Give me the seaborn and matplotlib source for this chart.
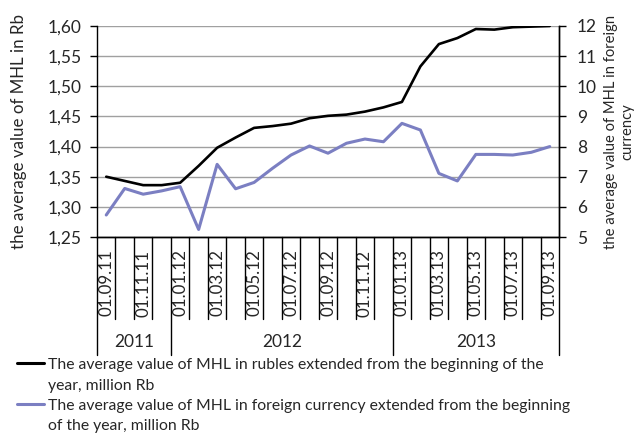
import matplotlib.pyplot as plt
import matplotlib.transforms as mtransforms
from matplotlib.legend_handler import HandlerLine2D
import numpy as np
import pandas as pd
import seaborn as sns

# monthly points, Sep 2011 .. Sep 2013
dates = ["01.09.11", "01.10.11", "01.11.11", "01.12.11",
         "01.01.12", "01.02.12", "01.03.12", "01.04.12", "01.05.12", "01.06.12",
         "01.07.12", "01.08.12", "01.09.12", "01.10.12", "01.11.12", "01.12.12",
         "01.01.13", "01.02.13", "01.03.13", "01.04.13", "01.05.13", "01.06.13",
         "01.07.13", "01.08.13", "01.09.13"]
years = ["2011", "2012", "2013"]
year_sizes = [4, 12, 9]

rub = [1.350, 1.343, 1.336, 1.336, 1.340, 1.368, 1.398, 1.415, 1.431, 1.434,
       1.438, 1.447, 1.451, 1.453, 1.458, 1.465, 1.474, 1.533, 1.570, 1.580,
       1.595, 1.594, 1.598, 1.599, 1.600]
fx = [5.73, 6.61, 6.42, 6.53, 6.67, 5.25, 7.41, 6.60, 6.81, 7.28,
      7.72, 8.02, 7.78, 8.11, 8.25, 8.16, 8.77, 8.55, 7.11, 6.86,
      7.74, 7.74, 7.72, 7.81, 8.00]

left_ticks = [1.25, 1.30, 1.35, 1.40, 1.45, 1.50, 1.55, 1.60]
right_ticks = [5, 6, 7, 8, 9, 10, 11, 12]

rub_label = "The average value of MHL in rubles extended from the beginning of the\nyear, million Rb"
fx_label = "The average value of MHL in foreign currency extended from the beginning\nof the year, million Rb"

blue = '#7b7fc2'


class FirstLineHandler(HandlerLine2D):
    # put the legend line next to the first text line, not the middle
    def create_artists(self, legend, orig_handle, xdescent, ydescent,
                       width, height, fontsize, trans):
        arts = super().create_artists(legend, orig_handle, xdescent, ydescent,
                                      width, height, fontsize, trans)
        for a in arts:
            a.set_ydata(np.asarray(a.get_ydata()) + 0.8 * fontsize)
        return arts


sns.set_style("white")
plt.rcParams['font.family'] = ['Lato', 'DejaVu Sans']

df = pd.DataFrame({'pos': np.arange(len(dates)), 'rub': rub, 'fx': fx})

fig = plt.figure(figsize=(6.41, 4.43), dpi=100)
ax = fig.add_axes([97/641, 1 - 237/443, (559-97)/641, (237-26)/443])
ax2 = ax.twinx()

sns.lineplot(data=df, x='pos', y='rub', ax=ax, color='black', lw=1.9, legend=False)
sns.lineplot(data=df, x='pos', y='fx', ax=ax2, color=blue, lw=2.2, legend=False)

ax.set_xlim(-0.5, len(dates) - 0.5)
ax.set_ylim(1.25, 1.60)
ax2.set_ylim(5, 12)
ax.set_yticks(left_ticks)
ax.set_yticklabels([f"{v:.2f}".replace('.', ',') for v in left_ticks], fontsize=12.5)
ax2.set_yticks(right_ticks)
ax2.set_yticklabels([str(v) for v in right_ticks], fontsize=12.5)

ax.set_xticks(df['pos'][::2])
ax.set_xticklabels(dates[::2], rotation=90, fontsize=12.2)
ax.tick_params(axis='x', length=0, pad=9)
ax.tick_params(axis='y', length=5, width=1, color='black', direction='out', pad=6, left=True)
ax2.tick_params(axis='y', length=5, width=1, color='black', direction='out', pad=8, right=True)
ax.set_xlabel('')

ax.yaxis.grid(True, color='#a0a0a0', lw=1)
ax.set_axisbelow(True)
for a in (ax, ax2):
    a.spines['top'].set_visible(False)
    for s in ('left', 'right', 'bottom'):
        a.spines[s].set_color('black')
        a.spines[s].set_linewidth(1)
ax2.spines['left'].set_visible(False)

ax.set_ylabel("the average value of MHL in Rb", fontsize=12.2)
ax.yaxis.set_label_coords(-0.152, 0.5)
ax2.set_ylabel("the average value of MHL in foreign\ncurrency", fontsize=10.6,
               rotation=90, linespacing=1.25)
ax2.yaxis.set_label_coords(1.097, 0.5)

# category separators and year groups below the axis
trans = mtransforms.blended_transform_factory(ax.transData, ax.transAxes)
bounds = np.cumsum([0] + year_sizes) - 0.5
short = -(319 - 237) / 211
long_ = -(355 - 237) / 211
for i in range(len(dates) + 1):
    xb = i - 0.5
    y_end = long_ if xb in bounds else short
    ax.plot([xb, xb], [0, y_end], color='black', lw=1, transform=trans, clip_on=False)
for k, yr in enumerate(years):
    ax.text((bounds[k] + bounds[k + 1]) / 2, -(342 - 237) / 211, yr, transform=trans,
            ha='center', va='center', fontsize=12.5)

handles = [plt.Line2D([], [], color='black', lw=2.2),
           plt.Line2D([], [], color=blue, lw=2.2)]
leg = fig.legend(handles, [rub_label, fx_label], loc='upper left',
                 bbox_to_anchor=(17/641, 1 - 358/443), frameon=False,
                 prop={'size': 11.3},
                 handlelength=1.75, handletextpad=0.2, labelspacing=0.4,
                 borderaxespad=0, borderpad=0,
                 handler_map={plt.Line2D: FirstLineHandler()})
for t in leg.get_texts():
    t.set_linespacing(1.6)

fig.savefig('out.png', dpi=100)
